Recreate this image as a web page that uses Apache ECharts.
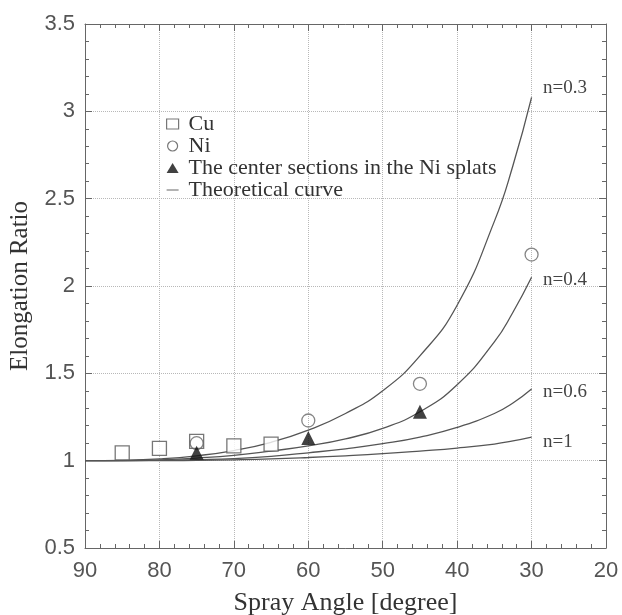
<!DOCTYPE html>
<html>
<head>
<meta charset="utf-8">
<script src="https://cdn.jsdelivr.net/npm/echarts@6/dist/echarts.min.js"></script>
<style>
html,body{margin:0;padding:0;background:#fff;}
#chart{width:622px;height:615px;}
</style>
</head>
<body>
<div id="chart"></div>
<script>
// Data
const angles = [90, 85, 80, 75, 70, 65, 60, 55, 50, 45, 40, 35, 32.5, 30];
const curveN03 = [1.00, 1.002, 1.01, 1.028, 1.058, 1.105, 1.175, 1.27, 1.40, 1.60, 1.89, 2.37, 2.69, 3.08];
const curveN04 = [1.00, 1.00, 1.005, 1.015, 1.03, 1.055, 1.085, 1.125, 1.185, 1.28, 1.435, 1.68, 1.85, 2.05];
const curveN06 = [1.00, 1.00, 1.002, 1.006, 1.012, 1.025, 1.045, 1.068, 1.097, 1.135, 1.19, 1.27, 1.33, 1.41];
const curveN1  = [1.00, 1.00, 1.00, 1.002, 1.005, 1.01, 1.018, 1.028, 1.04, 1.055, 1.072, 1.095, 1.113, 1.135];
const curveNames = ['n=0.3', 'n=0.4', 'n=0.6', 'n=1'];

const cuAngles = [85, 80, 75, 70, 65];
const cuValues = [1.045, 1.07, 1.11, 1.085, 1.095];
const niAngles = [75, 60, 45, 30];
const niValues = [1.10, 1.23, 1.44, 2.18];
const centerAngles = [75, 60, 45];
const centerValues = [1.045, 1.13, 1.28];

const xTicks = [90, 80, 70, 60, 50, 40, 30, 20];
const yTicks = [0.5, 1, 1.5, 2, 2.5, 3, 3.5];

const pair = (xs, ys) => xs.map((x, i) => [x, ys[i]]);

const chart = echarts.init(document.getElementById('chart'), null, {renderer: 'canvas'});

const serif = '"Liberation Serif", "DejaVu Serif", serif';
const sans = '"Liberation Sans", Arial, sans-serif';
const axisCol = '#666';

const baseX = {
  type: 'value', min: xTicks[xTicks.length - 1], max: xTicks[0], interval: 10, inverse: true,
  axisLine: {show: true, onZero: false, lineStyle: {color: axisCol, width: 1}},
  axisTick: {show: true, inside: true, length: 7, lineStyle: {color: axisCol}},
  minorTick: {show: true, splitNumber: 5, length: 4, lineStyle: {color: axisCol}},
};
const baseY = {
  type: 'value', min: yTicks[0], max: yTicks[yTicks.length - 1], interval: 0.5,
  axisLine: {show: true, onZero: false, lineStyle: {color: axisCol, width: 1}},
  axisTick: {show: true, inside: true, length: 7, lineStyle: {color: axisCol}},
  minorTick: {show: true, splitNumber: 5, length: 4, lineStyle: {color: axisCol}},
};

const labelOffsets = [-9, 3, 3, 5];

const curves = [curveN03, curveN04, curveN06, curveN1].map((vals, i) => ({
  name: 'Theoretical curve',
  type: 'line',
  smooth: 0.5,
  symbol: 'none',
  data: pair(angles, vals),
  lineStyle: {color: '#555', width: 1.3},
  itemStyle: {color: '#555'},
  z: 2,
  markPoint: {
    symbol: 'circle',
    symbolSize: 1,
    itemStyle: {color: 'rgba(0,0,0,0)'},
    silent: true,
    data: [{
      coord: [angles[angles.length - 1], vals[vals.length - 1]],
      label: {
        show: true,
        position: 'right',
        distance: 11,
        offset: [0, labelOffsets[i]],
        formatter: curveNames[i],
        fontFamily: serif,
        fontSize: 19,
        color: '#444'
      }
    }]
  }
}));

chart.setOption({
  animation: false,
  backgroundColor: '#fff',
  grid: {left: 85, right: 16, top: 24, bottom: 67, containLabel: false, outerBoundsMode: 'none'},
  legend: {
    orient: 'vertical',
    left: 161,
    top: 108,
    itemGap: 0,
    itemWidth: 12,
    itemHeight: 10,
    textStyle: {fontFamily: serif, fontSize: 22, color: '#333', lineHeight: 21, padding: [0, 0, 0, 5]},
    data: [
      {name: 'Cu', icon: 'rect', itemStyle: {color: '#fff', borderColor: '#555', borderWidth: 1.2}},
      {name: 'Ni', icon: 'circle', itemStyle: {color: '#fff', borderColor: '#555', borderWidth: 1.2}},
      {name: 'The center sections in the Ni splats', icon: 'triangle'},
      {name: 'Theoretical curve', icon: 'path://M0,0 L20,0 L20,1.5 L0,1.5 Z', itemStyle: {color: '#555'}}
    ]
  },
  xAxis: [
    Object.assign({}, baseX, {
      position: 'bottom',
      name: 'Spray Angle [degree]',
      nameLocation: 'middle',
      nameGap: 42,
      nameTextStyle: {fontFamily: serif, fontSize: 26, color: '#333'},
      axisLabel: {fontFamily: sans, fontSize: 22, color: '#555', margin: 12},
      splitLine: {show: true, lineStyle: {color: '#b8b8b8', type: 'dotted', width: 1}}
    }),
    Object.assign({}, baseX, {
      position: 'top',
      axisLabel: {show: false},
      splitLine: {show: false}
    })
  ],
  yAxis: [
    Object.assign({}, baseY, {
      position: 'left',
      name: 'Elongation Ratio',
      nameLocation: 'middle',
      nameGap: 52,
      nameTextStyle: {fontFamily: serif, fontSize: 25, color: '#333'},
      axisLabel: {fontFamily: sans, fontSize: 22, color: '#555', margin: 10},
      splitLine: {show: true, lineStyle: {color: '#b8b8b8', type: 'dotted', width: 1}}
    }),
    Object.assign({}, baseY, {
      position: 'right',
      axisLabel: {show: false},
      splitLine: {show: false}
    })
  ],
  series: curves.concat([
    {
      name: 'Cu', type: 'scatter', symbol: 'rect', symbolSize: 14,
      data: pair(cuAngles, cuValues),
      itemStyle: {color: '#fff', borderColor: '#555', borderWidth: 1.3},
      z: 3
    },
    {
      name: 'Ni', type: 'scatter', symbol: 'circle', symbolSize: 13,
      data: pair(niAngles, niValues),
      itemStyle: {color: 'rgba(255,255,255,0)', borderColor: '#666', borderWidth: 1.3},
      z: 4
    },
    {
      name: 'The center sections in the Ni splats', type: 'scatter', symbol: 'triangle', symbolSize: 14,
      data: pair(centerAngles, centerValues),
      itemStyle: {color: '#111'},
      z: 5
    }
  ])
});
</script>
</body>
</html>
